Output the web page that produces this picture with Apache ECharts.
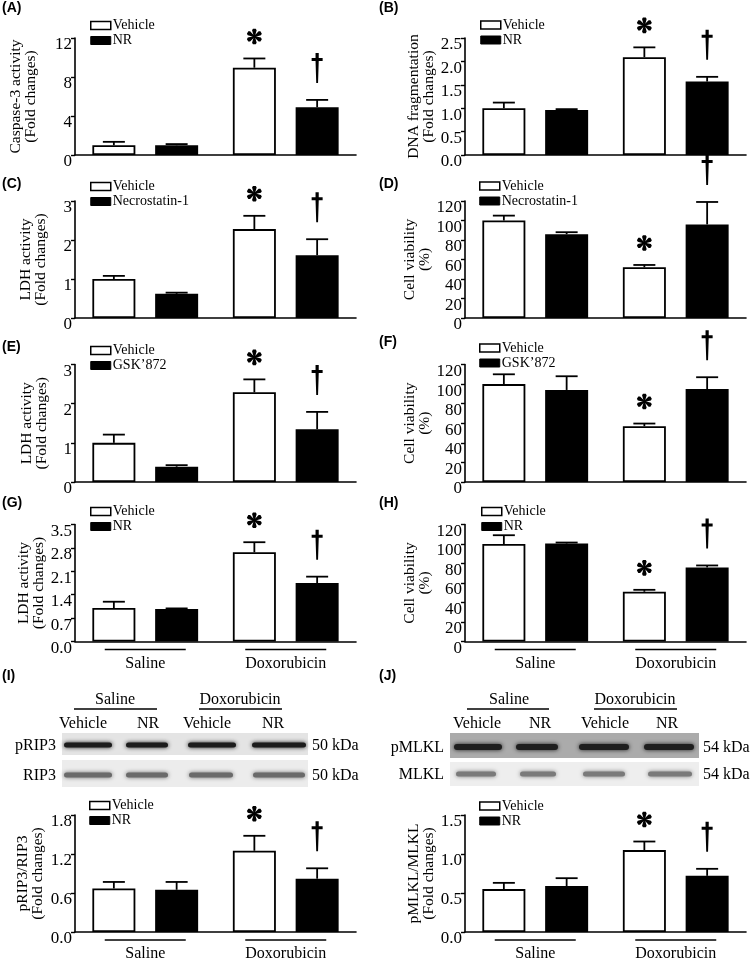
<!DOCTYPE html>
<html><head><meta charset="utf-8">
<script src="https://cdn.jsdelivr.net/npm/echarts@6/dist/echarts.min.js"></script>
<style>html,body{margin:0;padding:0;background:#fff}#c{width:754px;height:960px}</style>
</head><body><div id="c"></div>
<script>
const FONT = '"Liberation Serif","Times New Roman",serif';
const SANS = '"Liberation Sans",Arial,sans-serif';

const categories = ['Saline', 'Doxorubicin'];

// (A) Caspase-3 activity
const caspaseVehicle = [1.0, 8.95], caspaseVehicleErr = [0.35, 0.95];
const caspaseNR = [1.0, 4.9], caspaseNRErr = [0.12, 0.75];
// (B) DNA fragmentation
const dnaVehicle = [1.0, 2.09], dnaVehicleErr = [0.12, 0.21];
const dnaNR = [0.96, 1.57], dnaNRErr = [0.02, 0.10];
// (C) LDH, Necrostatin-1
const ldhNecVehicle = [1.0, 2.28], ldhNecVehicleErr = [0.08, 0.34];
const ldhNec = [0.62, 1.61], ldhNecErr = [0.03, 0.41];
// (D) Cell viability, Necrostatin-1
const viabNecVehicle = [100, 52], viabNecVehicleErr = [5, 2.4];
const viabNec = [86, 96], viabNecErr = [2, 23];
// (E) LDH, GSK'872
const ldhGskVehicle = [1.0, 2.29], ldhGskVehicleErr = [0.21, 0.33];
const ldhGsk = [0.39, 1.35], ldhGskErr = [0.04, 0.44];
// (F) Cell viability, GSK'872
const viabGskVehicle = [100, 57], viabGskVehicleErr = [10, 2.7];
const viabGsk = [94, 95], viabGskErr = [14, 12];
// (G) LDH, NR
const ldhNRVehicle = [1.0, 2.67], ldhNRVehicleErr = [0.19, 0.30];
const ldhNR = [0.97, 1.75], ldhNRErr = [0.02, 0.19];
// (H) Cell viability, NR
const viabNRVehicle = [100, 51], viabNRVehicleErr = [9, 2];
const viabNR = [100.5, 76], viabNRErr = [1, 2];
// (I) pRIP3/RIP3
const ripVehicle = [0.67, 1.25], ripVehicleErr = [0.10, 0.23];
const ripNR = [0.65, 0.82], ripNRErr = [0.12, 0.16];
// (J) pMLKL/MLKL
const mlklVehicle = [0.55, 1.05], mlklVehicleErr = [0.08, 0.11];
const mlklNR = [0.59, 0.72], mlklNRErr = [0.10, 0.09];

const vehicleMarks = ['', '*'];
const treatMarks = ['', '\u2020'];

const panelLetters = ['(A)','(B)','(C)','(D)','(E)','(F)','(G)','(H)','(I)','(J)'];
const treatNames = ['NR','NR','Necrostatin-1','Necrostatin-1','GSK\u2019872','GSK\u2019872','NR','NR','NR','NR'];
const yNames = ['Caspase-3 activity\n(Fold changes)','DNA fragmentation\n(Fold changes)',
  'LDH activity\n(Fold changes)','Cell viability\n(%)','LDH activity\n(Fold changes)','Cell viability\n(%)',
  'LDH activity\n(Fold changes)','Cell viability\n(%)','pRIP3/RIP3\n(Fold changes)','pMLKL/MLKL\n(Fold changes)'];
const yTickMax = [12, 2.5, 3, 120, 3, 120, 3.5, 120, 1.8, 1.5];
const yTickStep = [4, 0.5, 1, 20, 1, 20, 0.7, 20, 0.6, 0.5];
const yTickDecimals = [0, 1, 0, 0, 0, 0, 1, 0, 1, 1];
const showGroups = [false,false,false,false,false,false,true,true,true,true];

const vehSets = [caspaseVehicle, dnaVehicle, ldhNecVehicle, viabNecVehicle, ldhGskVehicle, viabGskVehicle, ldhNRVehicle, viabNRVehicle, ripVehicle, mlklVehicle];
const vehErrSets = [caspaseVehicleErr, dnaVehicleErr, ldhNecVehicleErr, viabNecVehicleErr, ldhGskVehicleErr, viabGskVehicleErr, ldhNRVehicleErr, viabNRVehicleErr, ripVehicleErr, mlklVehicleErr];
const trtSets = [caspaseNR, dnaNR, ldhNec, viabNec, ldhGsk, viabGsk, ldhNR, viabNR, ripNR, mlklNR];
const trtErrSets = [caspaseNRErr, dnaNRErr, ldhNecErr, viabNecErr, ldhGskErr, viabGskErr, ldhNRErr, viabNRErr, ripNRErr, mlklNRErr];

// Blot labels
const blotLanes = ['Vehicle', 'NR', 'Vehicle', 'NR'];
const blotRowsI = ['pRIP3', 'RIP3'];
const blotRowsJ = ['pMLKL', 'MLKL'];
const blotSizesI = ['50 kDa', '50 kDa'];
const blotSizesJ = ['54 kDa', '54 kDa'];

// ---------- layout (positions / styles) ----------
const rowTop = [38, 201, 364.5, 524.5, 815];
const rowBottom = [155, 318, 482, 641.5, 932];
const colLeft = [75, 465];
const colRight = [356, 746];
const nameGaps = [37, 29, 27, 27, 26, 27, 29, 27, 30, 29];
const legendPos = [[90,18.5],[480,18],[90,179.5],[479,179],[90,343.5],[479,341],[90,504.5],[481,504.5],[89,798.5],[479,799]];
const letterPos = [[2,8.5],[379,8.5],[2,184],[379,184],[2,347],[379,342],[2,503],[379,503],[2,676],[379,676]];
const BAR_W = 43, BAR_GAP = 0.46, CAP = 11;
const OFF = (BAR_W + BAR_W * BAR_GAP) / 2;

function starShape(cx, cy, r) {
  const children = [];
  for (let k = 0; k < 6; k++) {
    const a = -Math.PI / 2 + k * Math.PI / 3;
    const d = [Math.cos(a), Math.sin(a)], n = [-Math.sin(a), Math.cos(a)];
    const P = (al, pe) => [cx + d[0] * al + n[0] * pe, cy + d[1] * al + n[1] * pe];
    children.push({type: 'polygon', shape: {points: [
      P(0, 0.7), P(0.35 * r, 1.3), P(0.8 * r, 2.3), P(r, 1.4), P(r, -1.4), P(0.8 * r, -2.3), P(0.35 * r, -1.3), P(0, -0.7)
    ]}, style: {fill: '#000'}});
  }
  return {type: 'group', children};
}
function daggerShape(cx, bottom, h) {
  const t = bottom - h;
  const pts = [[-1.6,0],[1.6,0],[1.6,5],[5.5,5],[5.5,8],[1.6,8],[0.9,h],[-0.9,h],[-1.6,8],[-5.5,8],[-5.5,5],[-1.6,5]];
  return {type: 'polygon', shape: {points: pts.map(p => [cx + p[0], t + p[1]])}, style: {fill: '#000'}};
}

const grids = [], xAxes = [], yAxes = [], series = [], legends = [], graphics = [];

for (let i = 0; i < 10; i++) {
  const col = i % 2, row = Math.floor(i / 2);
  grids.push({left: colLeft[col], top: rowTop[row], width: colRight[col] - colLeft[col], height: rowBottom[row] - rowTop[row], outerBoundsMode: 'none'});
  xAxes.push({
    type: 'category', gridIndex: i, data: categories,
    axisLine: {lineStyle: {color: '#000', width: 1.6}},
    axisTick: {show: false},
    axisLabel: {show: showGroups[i], margin: 14, fontSize: 16, fontFamily: FONT, color: '#000'}
  });
  const dec = yTickDecimals[i];
  yAxes.push({
    type: 'value', gridIndex: i, min: 0, max: yTickMax[i], interval: yTickStep[i],
    name: yNames[i], nameLocation: 'middle', nameRotate: 90, nameGap: nameGaps[i],
    nameTextStyle: {fontSize: 15.5, lineHeight: 15, fontFamily: FONT, color: '#000'},
    axisLine: {show: true, lineStyle: {color: '#000', width: 1.6}},
    axisTick: {show: true, length: 4, lineStyle: {color: '#000', width: 1.4}},
    splitLine: {show: false},
    axisLabel: {margin: 3, fontSize: 17, fontFamily: FONT, color: '#000', verticalAlign: 'top', lineHeight: 14,
      formatter: v => Number(v).toFixed(dec)}
  });
  const vName = 'Vehicle', tName = treatNames[i];
  series.push({type: 'bar', name: vName, xAxisIndex: i, yAxisIndex: i, data: vehSets[i],
    barWidth: BAR_W, barGap: (BAR_GAP * 100) + '%',
    itemStyle: {color: '#fff', borderColor: '#000', borderWidth: 1.8}, z: 2, silent: true});
  series.push({type: 'bar', name: tName, xAxisIndex: i, yAxisIndex: i, data: trtSets[i],
    barWidth: BAR_W, barGap: (BAR_GAP * 100) + '%',
    itemStyle: {color: '#000', borderColor: '#000', borderWidth: 1.8}, z: 2, silent: true});
  const items = [];
  for (let c = 0; c < categories.length; c++) {
    items.push({cat: c, s: 0, mean: vehSets[i][c], err: vehErrSets[i][c], mark: vehicleMarks[c]});
    items.push({cat: c, s: 1, mean: trtSets[i][c], err: trtErrSets[i][c], mark: treatMarks[c]});
  }
  series.push({
    type: 'custom', xAxisIndex: i, yAxisIndex: i, clip: false, z: 3, silent: true,
    data: items.map(it => [it.cat, it.mean + it.err]),
    renderItem: (params, api) => {
      const it = items[params.dataIndex];
      const base = api.coord([it.cat, it.mean]);
      const top = api.coord([it.cat, it.mean + it.err]);
      const x = base[0] + (it.s === 0 ? -OFF : OFF);
      const ch = [
        {type: 'line', shape: {x1: x, y1: base[1], x2: x, y2: top[1]}, style: {stroke: '#000', lineWidth: 1.8}},
        {type: 'line', shape: {x1: x - CAP, y1: top[1], x2: x + CAP, y2: top[1]}, style: {stroke: '#000', lineWidth: 1.8}}
      ];
      if (it.mark === '*') ch.push(starShape(x, top[1] - 22, 7.8));
      if (it.mark === '\u2020') ch.push(daggerShape(x, top[1] - 17, 30));
      return {type: 'group', children: ch};
    }
  });
  if (showGroups[i]) {
    series.push({
      type: 'custom', xAxisIndex: i, yAxisIndex: i, clip: false, silent: true,
      data: categories.map((c, k) => [k, 0]),
      renderItem: (params, api) => {
        const p = api.coord([api.value(0), 0]);
        return {type: 'line', shape: {x1: p[0] - 40.5, y1: p[1] + 8, x2: p[0] + 40.5, y2: p[1] + 8}, style: {stroke: '#000', lineWidth: 1.4}};
      }
    });
  }
  legends.push({
    orient: 'vertical', left: legendPos[i][0], top: legendPos[i][1], itemWidth: 20, itemHeight: 8, itemGap: 1,
    selectedMode: false, padding: 0,
    textStyle: {fontSize: 14, lineHeight: 14, fontFamily: FONT, color: '#000', padding: [0, 0, 0, -3]},
    data: [
      {name: vName, icon: 'rect', itemStyle: {color: '#fff', borderColor: '#000', borderWidth: 1.5}},
      {name: tName, icon: 'rect', itemStyle: {color: '#000', borderColor: '#000', borderWidth: 1}}
    ]
  });
  graphics.push({type: 'text', x: letterPos[i][0], y: letterPos[i][1],
    style: {text: panelLetters[i], font: 'bold 14px ' + SANS, fill: '#000', verticalAlign: 'middle'}});
}

// ---------- western blots ----------
function txt(text, x, y, align) {
  return {type: 'text', x, y, style: {text, font: '16px ' + FONT, fill: '#000', align: align || 'center', verticalAlign: 'middle'}};
}
function hline(x1, x2, y) {
  return {type: 'line', shape: {x1, y1: y, x2, y2: y}, style: {stroke: '#000', lineWidth: 1.4}};
}
function band(cx, cy, w, h, color) {
  return {type: 'rect', shape: {x: cx - w / 2, y: cy - h / 2, width: w, height: h, r: h / 2},
    style: {fill: color, shadowBlur: 4, shadowColor: color}};
}
function blot(cfg) {
  const g = [];
  g.push(txt('Saline', cfg.groupCenters[0], 700), hline(cfg.groupLines[0][0], cfg.groupLines[0][1], 709));
  g.push(txt('Doxorubicin', cfg.groupCenters[1], 700), hline(cfg.groupLines[1][0], cfg.groupLines[1][1], 709));
  blotLanes.forEach((l, k) => g.push(txt(l, cfg.laneLabelX[k], 724)));
  cfg.strips.forEach((s, r) => {
    g.push({type: 'rect', shape: {x: cfg.x0, y: s.y0, width: cfg.x1 - cfg.x0, height: s.y1 - s.y0}, style: {fill: s.bg}});
    s.centers.forEach((c, k) => g.push(band(c, s.band, s.widths[k], s.h, s.color)));
    g.push(txt(cfg.rows[r], cfg.x0 - 6, s.band + 1, 'right'));
    g.push(txt(cfg.sizes[r], cfg.x1 + 4, s.band + 1, 'left'));
  });
  return g;
}
graphics.push(...blot({
  groupCenters: [115, 240], groupLines: [[74, 157], [199, 282]], laneLabelX: [83, 148, 207, 273],
  x0: 62, x1: 308, rows: blotRowsI, sizes: blotSizesI,
  strips: [
    {y0: 733, y1: 755, bg: '#e4e4e4', band: 745, h: 5, color: '#1c1c1c', centers: [88, 147, 212, 279], widths: [48, 42, 48, 54]},
    {y0: 760, y1: 787, bg: '#ececec', band: 775, h: 5, color: '#6a6a6a', centers: [88, 147, 211, 279], widths: [48, 42, 44, 52]}
  ]
}));
graphics.push(...blot({
  groupCenters: [509, 635], groupLines: [[467, 549], [594, 677]], laneLabelX: [477, 540, 605, 667],
  x0: 450, x1: 699, rows: blotRowsJ, sizes: blotSizesJ,
  strips: [
    {y0: 733, y1: 758, bg: '#ababab', band: 747, h: 6, color: '#1e1e1e', centers: [478, 537, 604, 669], widths: [48, 42, 50, 50]},
    {y0: 762, y1: 786, bg: '#eeeeee', band: 774, h: 5, color: '#7a7a7a', centers: [476, 538, 604, 670], widths: [40, 36, 42, 44]}
  ]
}));

const chart = echarts.init(document.getElementById('c'), null, {renderer: 'canvas'});
chart.setOption({
  backgroundColor: '#fff',
  animation: false,
  grid: grids, xAxis: xAxes, yAxis: yAxes, legend: legends, series,
  graphic: {elements: graphics}
});
</script></body></html>
